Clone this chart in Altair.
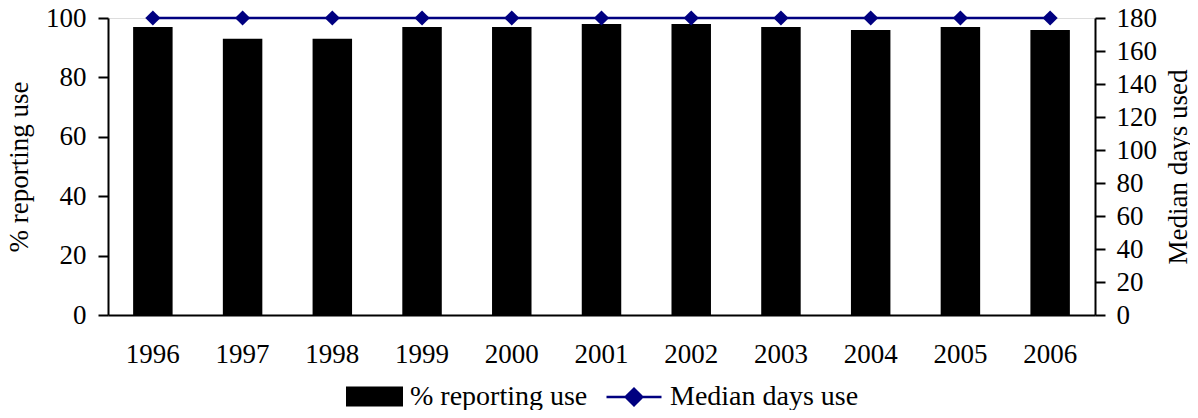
import altair as alt
import pandas as pd

years = ["1996", "1997", "1998", "1999", "2000", "2001", "2002", "2003", "2004", "2005", "2006"]
pct_reporting_use = [97, 93, 93, 97, 97, 98, 98, 97, 96, 97, 96]
median_days_use = [180, 180, 180, 180, 180, 180, 180, 180, 180, 180, 180]
left_ticks = [0, 20, 40, 60, 80, 100]
right_ticks = [0, 20, 40, 60, 80, 100, 120, 140, 160, 180]

df = pd.DataFrame({
    "year": years,
    "pct": pct_reporting_use,
    "days": median_days_use,
    "s1": "% reporting use",
    "s2": "Median days use",
})

FONT = "Liberation Serif"
FS = 27
LFS = 28
NAVY = "#000080"

common_axis = dict(labelFont=FONT, labelFontSize=FS, labelColor="black",
                   titleFont=FONT, titleFontSize=FS, titleColor="black",
                   titleFontWeight="normal", domainColor="black", domainWidth=2)

x_enc = alt.X(
    "year:N", sort=years,
    scale=alt.Scale(paddingInner=0.56, paddingOuter=0.28),
    axis=alt.Axis(title=None, labelAngle=0, ticks=False, labelPadding=26, **common_axis),
)

bars = alt.Chart(df).mark_bar(color="black").encode(
    x=x_enc,
    y=alt.Y("pct:Q", scale=alt.Scale(domain=[0, 100]),
            axis=alt.Axis(title="% reporting use", values=left_ticks, grid=False,
                          tickSize=10, labelPadding=12, titlePadding=12,
                          tickColor="black", tickWidth=2, **common_axis)),
    color=alt.Color("s1:N", scale=alt.Scale(range=["black"]),
                    legend=alt.Legend(title=None, orient="none", legendX=238, legendY=350,
                                      symbolType="M-1,-0.35L1,-0.35L1,0.35L-1,0.35Z",
                                      symbolSize=3249, symbolStrokeWidth=0,
                                      symbolFillColor="black", labelOffset=7,
                                      labelFont=FONT, labelFontSize=LFS, labelColor="black",
                                      labelLimit=0)),
)

line = alt.Chart(df).mark_line(
    strokeWidth=2.5,
    point=alt.OverlayMarkDef(shape="diamond", size=230, filled=True, color=NAVY),
).encode(
    x=x_enc,
    y=alt.Y("days:Q", scale=alt.Scale(domain=[0, 180]),
            axis=alt.Axis(title="Median days used", orient="right", values=right_ticks,
                          grid=False, tickSize=10, labelPadding=11, titlePadding=9,
                          titleAngle=270, titleBaseline="top",
                          tickColor="black", tickWidth=2, **common_axis)),
    color=alt.Color("s2:N", scale=alt.Scale(range=[NAVY]),
                    legend=alt.Legend(title=None, orient="none", legendX=497, legendY=350,
                                      symbolType="M-1,0L1,0M-0.3,0L0,-0.3L0.3,0L0,0.3Z",
                                      symbolSize=3025, symbolStrokeWidth=2.5,
                                      symbolFillColor=NAVY, symbolStrokeColor=NAVY,
                                      labelOffset=7,
                                      labelFont=FONT, labelFontSize=LFS, labelColor="black",
                                      labelLimit=0)),
)

chart = alt.layer(bars, line).resolve_scale(y="independent", color="independent").properties(
    width=987, height=297,
    autosize=alt.AutoSizeParams(type="none"),
    padding={"left": 100, "top": 10, "right": 95, "bottom": 95},
    background="white",
).configure_view(stroke=None).configure_legend(
    padding=0, labelFont=FONT, labelFontSize=LFS, labelColor="black",
).configure_axis(
    labelFont=FONT, labelFontSize=FS, titleFont=FONT, titleFontSize=FS,
).configure(font=FONT)

chart.save("out.html", embed_options={"renderer": "svg", "actions": False})
